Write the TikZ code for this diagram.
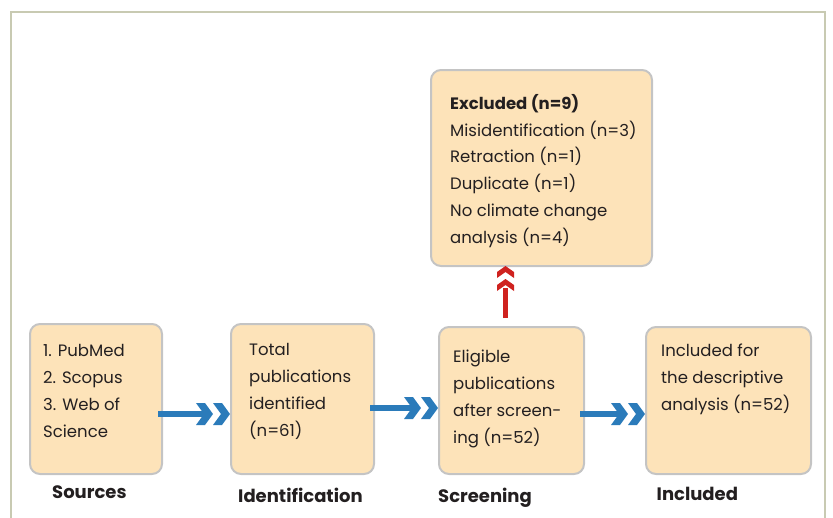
\documentclass[tikz,border=0pt]{standalone}
\usepackage{fontspec}
\setmainfont{Poppins}
\usetikzlibrary{calc}
\definecolor{boxfill}{HTML}{FDE3B9}
\definecolor{boxline}{HTML}{C4C4C4}
\definecolor{framecol}{HTML}{C8CAB2}
\definecolor{arrblue}{HTML}{2B7BBA}
\definecolor{arrred}{HTML}{CF221F}
\definecolor{textcol}{HTML}{231F20}
\tikzset{
  box/.style={draw=boxline, line width=2pt, fill=boxfill, rounded corners=10pt, inner sep=0pt},
  txt/.style={align=left, inner sep=0pt, text=textcol, font=\fontsize{16.5}{26.7}\selectfont},
  stage/.style={inner sep=0pt, anchor=base west, text=textcol, font=\fontsize{18}{20}\selectfont\bfseries},
  bluechev/.pic={\fill[arrblue] (0,-11) -- (9,-11) -- (17,0) -- (9,11) -- (0,11) -- (8,0) -- cycle;},
  redchev/.pic={\fill[arrred] (0,0) -- (8.5,6) -- (8.5,12) -- (0,6) -- (-8.5,12) -- (-8.5,6) -- cycle;}
}
\newcommand{\bluearrow}[3]{% from node, to node, absolute y
  \draw[arrblue, line width=6.5pt] ($(#1.east |- 0,#3)+(-5,0)$) -- ($(#2.west |- 0,#3)+(-26,0)$);
  \pic at ($(#2.west |- 0,#3)+(-34,0)$) {bluechev};
  \pic at ($(#2.west |- 0,#3)+(-17,0)$) {bluechev};
}
\begin{document}
\begin{tikzpicture}[x=1pt,y=-1pt]
\useasboundingbox (0,0) rectangle (833,517);
\draw[framecol, line width=2.2pt] (11,520) -- (11,12) -- (825,12) -- (825,520);

% boxes
\node[box, minimum width=132pt, minimum height=150pt] (src) at (96,399) {};
\node[box, minimum width=143pt, minimum height=150pt] (idn) at (302.5,399) {};
\node[box, minimum width=145pt, minimum height=147pt] (scr) at (511.5,400.5) {};
\node[box, minimum width=165pt, minimum height=147pt] (inc) at (728.5,400.5) {};
\node[box, minimum width=221pt, minimum height=196pt] (exc) at (541.5,168) {};

% box texts (anchored at baseline of last line)
\node[txt, anchor=base west] (srcT) at (43,437) {1. PubMed\\2. Scopus\\3. Web of\\Science};
\node[txt, anchor=base west] (idnT) at (249,436) {Total\\publications\\identified\\(n=61)};
\node[txt, anchor=base west] (scrT) at (453,443) {Eligible\\publications\\after screen-\\ing (n=52)};
\node[txt, anchor=base west] (incT) at (661,410) {Included for\\the descriptive\\analysis (n=52)};
\node[txt, anchor=base west] (excT) at (450,243) {\textbf{Excluded (n=9)}\\Misidentification (n=3)\\Retraction (n=1)\\Duplicate (n=1)\\No climate change\\analysis (n=4)};

% stage labels
\node[stage] (srcL) at (52,498) {Sources};
\node[stage] (idnL) at (238,502.5) {Identification};
\node[stage] (scrL) at (438,502.5) {Screening};
\node[stage] (incL) at (656.5,500.5) {Included};

% blue arrows
\bluearrow{src}{idn}{414}
\bluearrow{idn}{scr}{408}
\bluearrow{scr}{inc}{414}

% red arrow
\coordinate (redbase) at ($(scr.north)+(-6,-8)$);
\coordinate (redtip) at ($(exc.south)+(-36,-1)$);
\draw[arrred, line width=5.5pt] (redbase) -- ($(redtip)+(0,22)$);
\pic at (redtip) {redchev};
\pic at ($(redtip)+(0,13)$) {redchev};
\end{tikzpicture}
\end{document}
